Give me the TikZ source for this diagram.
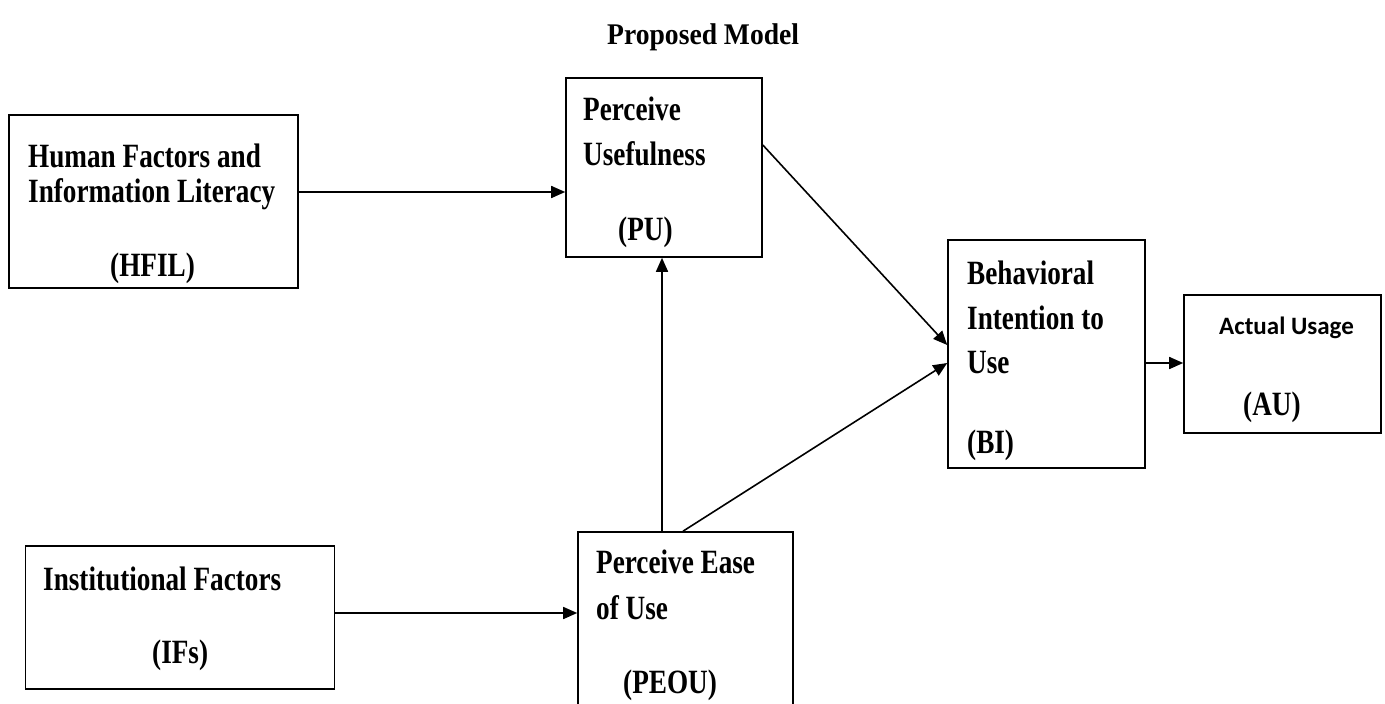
\documentclass[tikz,border=0pt]{standalone}
\usepackage{fontspec}
\setmainfont{Liberation Serif}[FakeStretch=0.8]
\newfontfamily\titlefont{Liberation Serif}[FakeStretch=0.92]
\newfontfamily\sansbold{Carlito}
\usetikzlibrary{arrows.meta,positioning}

\begin{document}
\begin{tikzpicture}[
  x=1pt, y=-1pt,
  >={Triangle[length=14pt,width=12pt]},
  font=\fontsize{34}{40}\selectfont\bfseries,
  blk/.style={draw, line width=1.6pt, inner sep=0pt},
  lbl/.style={anchor=base west, inner sep=0pt},
  arr/.style={->, line width=1.6pt},
]
  \useasboundingbox (0,0) rectangle (1385,704);
  \clip (0,0) rectangle (1385,704);

  % title
  \node[lbl, font=\titlefont\fontsize{30}{36}\selectfont\bfseries] (title) at (607,45) {Proposed Model};

  % boxes
  \node[blk, minimum width=289pt, minimum height=173pt] (hfil) at (153.5,201.5) {};
  \node[blk, minimum width=196pt, minimum height=179pt] (pu) at (664,167.5) {};
  \node[blk, minimum width=197pt, minimum height=228pt] (bi) at (1046.5,354) {};
  \node[blk, minimum width=197pt, minimum height=138pt] (au) at (1282.5,364) {};
  \node[blk, minimum width=309pt, minimum height=143pt] (ifs) at (180,617.5) {};
  \node[blk, minimum width=215pt, minimum height=190pt] (peou) at (685.5,627) {};

  % box texts
  \node[lbl] (hfil1) at (28,167) {Human Factors and};
  \node[lbl] (hfil2) at (28,202) {Information Literacy};
  \node[lbl] (hfil3) at (110,276) {(HFIL)};

  \node[lbl] (pu1) at (583,120) {Perceive};
  \node[lbl] (pu2) at (583,165) {Usefulness};
  \node[lbl] (pu3) at (618,240) {(PU)};

  \node[lbl] (bi1) at (967,284) {Behavioral};
  \node[lbl] (bi2) at (967,329) {Intention to};
  \node[lbl] (bi3) at (967,373) {Use};
  \node[lbl] (bi4) at (967,453) {(BI)};

  \node[lbl, font=\sansbold\fontsize{25}{30}\selectfont\bfseries] (au1) at (1219,334) {Actual Usage};
  \node[lbl] (au2) at (1243,415) {(AU)};

  \node[lbl] (ifs1) at (43,590) {Institutional Factors};
  \node[lbl] (ifs2) at (152,663) {(IFs)};

  \node[lbl] (peou1) at (596,573) {Perceive Ease};
  \node[lbl] (peou2) at (596,619) {of Use};
  \node[lbl] (peou3) at (623,693) {(PEOU)};

  % connectors
  \draw[arr] (hfil.east |- 0,192) -- (pu.west |- 0,192);
  \draw[arr] (ifs.east |- 0,613) -- (peou.west |- 0,613);
  \draw[arr] (peou.north -| 662,0) -- (pu.south -| 662,0);
  \draw[arr] (pu.east |- 0,145) -- (bi.west |- 0,345);
  \draw[arr] (peou.north -| 683,0) -- (bi.west |- 0,363);
  \draw[arr] (bi.east |- 0,363) -- (au.west |- 0,363);
\end{tikzpicture}
\end{document}
